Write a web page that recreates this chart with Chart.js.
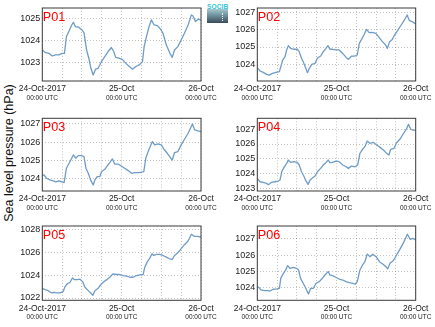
<!DOCTYPE html>
<html><head><meta charset="utf-8">
<script src="https://cdn.jsdelivr.net/npm/chart.js@4"></script>
<style>
html,body{margin:0;padding:0;background:#fff;overflow:hidden;width:435px;height:327px;}
canvas{position:absolute;}
#ylab{position:absolute;left:8.5px;top:152.5px;transform:translate(-50%,-50%) rotate(-90deg);font:12.5px "Liberation Sans",Arial,sans-serif;line-height:14px;white-space:nowrap;color:#111;}
#logo{position:absolute;left:207px;top:2px;width:21px;height:22px;}
#logo .t{position:absolute;left:0;top:0.5px;width:21px;text-align:center;font:bold 6.6px "Liberation Sans",Arial,sans-serif;line-height:7px;color:#35c3dc;letter-spacing:0.1px;}
#logo .b{position:absolute;left:0;top:7px;width:21px;height:14.3px;background:linear-gradient(#a4c9d1,#7497a3 40%,#3c4c59);}
#logo .d{position:absolute;left:15px;top:10.7px;height:8px;border-left:1px dotted #eef4f6;}
</style></head><body>
<div id="ylab">Sea level pressure (hPa)</div>
<div id="logo"><div class="t">SOCIB</div><div class="b"></div><div class="d"></div></div>
<canvas id="c0" width="204" height="110" style="left:14px;top:0px"></canvas>
<canvas id="c1" width="210" height="110" style="left:225px;top:0px"></canvas>
<canvas id="c2" width="204" height="110" style="left:14px;top:110px"></canvas>
<canvas id="c3" width="210" height="110" style="left:225px;top:110px"></canvas>
<canvas id="c4" width="204" height="109" style="left:14px;top:218px"></canvas>
<canvas id="c5" width="210" height="109" style="left:225px;top:218px"></canvas>
<script>
// ---------- data ----------
const panelNames = ['P01','P02','P03','P04','P05','P06'];
const xTickHours = [0, 24, 48];
const xTickLabels = ['24-Oct-2017', '25-Oct', '26-Oct'];
const xTickSubLabels = ['00:00 UTC', '00:00 UTC', '00:00 UTC'];
const xGridHours = [0, 6, 12, 18, 24, 30, 36, 42, 48];

const p01Hours = [0,1,2,3,4,5,6,6.7,7.3,8,8.9,9.4,10,11,12,12.6,13.4,14.2,14.7,15.4,16.1,16.9,17.9,18.9,19.9,20.9,21.6,22.2,23.2,24.2,25.2,26.3,27.3,28.3,29.3,30.3,30.8,31.5,32.3,33,33.8,34.8,35.8,36.5,37.5,38.6,39.3,40,41,42,43,44.1,45.1,45.6,46.3,47.1,48];
const p01Values = [1023.58,1023.46,1023.43,1023.31,1023.36,1023.36,1023.43,1023.43,1024.18,1024.40,1024.70,1024.82,1024.63,1024.60,1024.48,1024.36,1023.58,1023.13,1022.76,1022.46,1022.72,1022.76,1023.06,1023.28,1023.51,1023.69,1023.51,1023.25,1023.21,1023.16,1022.99,1022.84,1022.72,1022.84,1022.91,1023.06,1023.73,1024.18,1024.63,1024.93,1024.70,1024.67,1024.51,1024.33,1023.81,1023.43,1023.25,1023.58,1023.73,1024.03,1024.33,1024.70,1025.15,1025.10,1024.85,1024.96,1024.93];

const p02Hours = [0,0.8,1.8,2.8,3.6,4.6,5.7,6.7,7.1,7.7,8.4,8.9,9.4,10.1,11.1,12.1,12.7,13.4,14.1,14.7,15.2,15.8,16.5,17.5,18.2,19.2,20,20.8,21.4,22,22.8,23.8,24.8,25.9,26.9,27.6,28.6,29.6,30.3,30.9,31.6,32.3,33.1,33.9,34.9,35.9,36.9,37.9,38.9,39.4,40.1,40.9,41.6,42.6,43.6,44.6,45.4,46.1,46.9,48];
const p02Values = [1023.81,1023.62,1023.54,1023.42,1023.38,1023.48,1023.54,1023.58,1023.85,1024.25,1024.44,1024.83,1025.08,1024.92,1024.87,1024.87,1024.73,1024.35,1024.06,1023.77,1023.52,1023.77,1024.00,1024.06,1024.35,1024.48,1024.73,1024.92,1025.08,1024.87,1024.87,1024.83,1024.83,1024.63,1024.40,1024.29,1024.48,1024.48,1024.54,1025.21,1025.44,1025.69,1026.02,1025.83,1025.85,1025.79,1025.56,1025.31,1025.12,1024.92,1025.31,1025.44,1025.69,1025.98,1026.27,1026.56,1026.85,1026.52,1026.46,1026.33];

const p03Hours = [0,0.5,1.3,2.3,3.3,4.1,5,6,6.6,7.3,8.1,8.9,9.4,10.1,10.9,11.9,12.6,13.2,13.9,14.6,15.4,15.9,16.6,17.4,17.9,18.9,19.6,20.4,21.2,21.9,22.9,23.9,24.9,26,27,28,29,30,30.7,31.3,32,32.7,33.3,34,35,36,36.8,37.8,38.7,39.3,40,41,42,43,44.1,45.4,46.1,47.1,48];
const p03Values = [1024.16,1024.20,1024.02,1023.93,1023.87,1023.82,1023.87,1023.82,1023.78,1024.57,1024.84,1025.12,1025.30,1025.12,1025.26,1025.26,1025.21,1024.57,1024.29,1023.93,1023.65,1023.93,1024.11,1024.11,1024.38,1024.51,1024.69,1024.88,1025.08,1024.80,1024.80,1024.69,1024.57,1024.44,1024.29,1024.33,1024.33,1024.35,1024.38,1025.12,1025.48,1025.79,1026.03,1025.85,1025.90,1025.85,1025.61,1025.39,1025.17,1025.02,1025.43,1025.48,1025.85,1026.16,1026.49,1027.00,1026.67,1026.62,1026.58];

const p04Hours = [0,0.8,1.8,2.8,3.4,4.3,5.4,6.4,6.9,7.4,8.1,8.9,9.4,10.1,11.1,12.1,12.7,13.4,14.1,14.7,15.4,16,16.8,17.5,18.2,19.2,20,20.8,21.5,22,22.8,23.8,24.8,25.9,26.9,27.6,28.6,29.6,30.4,31.1,31.9,32.6,33.3,34.1,35.2,36.2,37.2,38.2,39.2,39.9,40.4,41.4,42.2,43.2,44.2,45.3,45.8,46.5,47.3,48];
const p04Values = [1023.66,1023.43,1023.39,1023.32,1023.23,1023.39,1023.43,1023.48,1023.55,1024.11,1024.41,1024.68,1024.91,1024.75,1024.80,1024.75,1024.57,1024.11,1023.82,1023.50,1023.25,1023.55,1023.70,1023.82,1024.11,1024.34,1024.57,1024.73,1024.91,1024.73,1024.75,1024.84,1024.80,1024.57,1024.45,1024.34,1024.50,1024.45,1024.57,1025.36,1025.64,1025.82,1026.20,1026.05,1026.11,1025.93,1025.77,1025.59,1025.36,1025.25,1025.64,1025.70,1026.09,1026.32,1026.68,1027.07,1027.34,1027.00,1026.95,1026.95];

const p05Hours = [0,0.8,1.8,2.8,3.5,4.3,5.3,6.3,6.8,7.5,8.4,9.1,9.7,10.7,11.4,12.2,12.9,13.9,14.7,15.3,15.9,16.9,17.6,18.4,19.4,20.4,21.4,22.4,23.4,24.4,25.5,26.5,27.5,28.5,29.5,30.5,31,31.7,32.5,33.2,33.7,34.5,35.5,36.5,37.5,38.5,39.3,40,41,42,43,44.1,45.1,45.9,46.9,48];
const p05Values = [1022.85,1022.73,1022.64,1022.44,1022.50,1022.44,1022.44,1022.56,1022.94,1023.23,1023.37,1023.75,1023.61,1023.61,1023.64,1023.43,1022.94,1022.64,1022.41,1022.23,1022.64,1022.85,1023.14,1023.37,1023.58,1023.81,1024.11,1024.05,1024.05,1023.96,1023.90,1023.81,1023.81,1023.96,1024.02,1024.05,1024.69,1025.13,1025.48,1025.86,1025.71,1025.80,1025.80,1025.71,1025.57,1025.42,1025.36,1025.71,1025.95,1026.30,1026.65,1026.97,1027.56,1027.38,1027.38,1027.32];

const p06Hours = [0,0.5,1.1,2.1,3.1,3.8,4.8,5.9,6.7,7.1,7.9,8.6,9.2,9.9,10.9,11.9,12.5,13.1,13.9,14.7,15.5,16.2,17,17.8,18.8,19.5,20.5,21.5,22,22.8,23.8,24.8,25.9,26.9,27.9,28.9,29.6,30.3,31.1,31.9,32.6,33.3,34.1,35,36,37,38,39,39.5,40.2,41.2,42.2,43.2,44.2,45.5,46.3,47.1,48];
const p06Values = [1024.06,1024.00,1023.86,1023.82,1023.82,1023.79,1023.90,1023.92,1023.96,1024.57,1024.88,1025.09,1025.36,1025.19,1025.25,1025.19,1025.09,1024.57,1024.27,1023.96,1023.61,1023.96,1023.96,1024.27,1024.37,1024.53,1024.78,1024.99,1024.78,1024.74,1024.64,1024.53,1024.47,1024.37,1024.31,1024.27,1024.21,1024.37,1025.09,1025.40,1025.60,1026.07,1025.91,1026.05,1025.91,1025.60,1025.46,1025.29,1025.15,1025.50,1025.66,1026.01,1026.36,1026.73,1027.29,1026.98,1027.04,1026.94];

const p01Ticks = [1023, 1024, 1025];
const p02Ticks = [1024, 1025, 1026, 1027];
const p03Ticks = [1024, 1025, 1026, 1027];
const p04Ticks = [1023, 1024, 1025, 1026, 1027];
const p05Ticks = [1022, 1024, 1026, 1028];
const p06Ticks = [1024, 1025, 1026, 1027];

const p01Range = [1022.19, 1025.46];
const p02Range = [1023.04, 1027.25];
const p03Range = [1023.32, 1027.31];
const p04Range = [1022.80, 1027.75];
const p05Range = [1021.80, 1028.28];
const p06Range = [1023.22, 1027.80];

// ---------- layout (not data) ----------
const rowGeom = [
  {padTop: 8, plotH: 73, h: 110},
  {padTop: 8.3, plotH: 72.7, h: 110},
  {padTop: 8, plotH: 74.3, h: 109}
];
const colGeom = [
  {yW: 28.3, padR: 17},
  {yW: 32.3, padR: 19.3}
];
const FONT = '"Liberation Sans", Arial, sans-serif';
const GRID_COLOR = 'rgba(0,0,0,0.24)';

const framePlugin = {
  id: 'frame',
  afterDatasetsDraw(chart, args, opts) {
    const a = chart.chartArea, ctx = chart.ctx;
    ctx.save();
    ctx.strokeStyle = '#3a3a3a';
    ctx.lineWidth = 1;
    ctx.strokeRect(a.left, a.top, a.right - a.left, a.bottom - a.top);
    ctx.fillStyle = '#ff0000';
    ctx.font = '12.6px ' + FONT;
    ctx.textBaseline = 'alphabetic';
    ctx.fillText(opts.name, a.left + 0.5, a.top + 12.7);
    ctx.restore();
  }
};

function makePanel(idx, hours, values, yTicks, yRange) {
  const row = rowGeom[Math.floor(idx / 2)], col = colGeom[idx % 2];
  const mainH = 13;
  const subH = row.h - row.padTop - row.plotH - mainH;
  const pts = hours.map((h, i) => ({x: h, y: values[i]}));
  new Chart(document.getElementById('c' + idx), {
    type: 'line',
    data: {datasets: [{data: pts, borderColor: '#6f9cc6', borderWidth: 1.3, pointRadius: 0, tension: 0, fill: false, borderJoinStyle: 'round'}]},
    plugins: [framePlugin],
    options: {
      responsive: false, animation: false, devicePixelRatio: 1,
      layout: {padding: {top: row.padTop, right: col.padR, left: 0, bottom: 0}},
      plugins: {legend: {display: false}, tooltip: {enabled: false}, frame: {name: panelNames[idx]}},
      scales: {
        x: {
          type: 'linear', position: 'bottom', weight: 0, min: 0, max: 48,
          afterBuildTicks: s => { s.ticks = xGridHours.map(v => ({value: v})); },
          afterFit: s => { s.height = mainH; s.paddingLeft = 0; s.paddingRight = 0; },
          ticks: {
            autoSkip: false, maxRotation: 0, minRotation: 0, padding: 3, color: '#1a1a1a',
            font: {family: FONT, size: 8.5},
            callback: v => { const k = xTickHours.indexOf(v); return k >= 0 ? xTickLabels[k] : ''; }
          },
          grid: {color: GRID_COLOR, lineWidth: 1, drawTicks: false},
          border: {display: false, dash: [1, 2]}
        },
        x2: {
          type: 'linear', position: 'bottom', weight: 1, min: 0, max: 48,
          afterBuildTicks: s => { s.ticks = xTickHours.map(v => ({value: v})); },
          afterFit: s => { s.height = subH; s.paddingLeft = 0; s.paddingRight = 0; },
          ticks: {
            autoSkip: false, maxRotation: 0, minRotation: 0, padding: 0, color: '#222',
            font: {family: FONT, size: 6.5},
            callback: v => { const k = xTickHours.indexOf(v); return k >= 0 ? xTickSubLabels[k] : ''; }
          },
          grid: {display: false, drawTicks: false},
          border: {display: false}
        },
        y: {
          type: 'linear', position: 'left', min: yRange[0], max: yRange[1],
          afterBuildTicks: s => { s.ticks = yTicks.map(v => ({value: v})); },
          afterFit: s => { s.width = col.yW; s.paddingTop = 0; s.paddingBottom = 0; },
          ticks: {padding: 2, color: '#1a1a1a', font: {family: FONT, size: 9}, callback: v => String(v)},
          grid: {color: GRID_COLOR, lineWidth: 1, drawTicks: false},
          border: {display: false, dash: [1, 2]}
        }
      }
    }
  });
}

makePanel(0, p01Hours, p01Values, p01Ticks, p01Range);
makePanel(1, p02Hours, p02Values, p02Ticks, p02Range);
makePanel(2, p03Hours, p03Values, p03Ticks, p03Range);
makePanel(3, p04Hours, p04Values, p04Ticks, p04Range);
makePanel(4, p05Hours, p05Values, p05Ticks, p05Range);
makePanel(5, p06Hours, p06Values, p06Ticks, p06Range);
</script>
</body></html>
